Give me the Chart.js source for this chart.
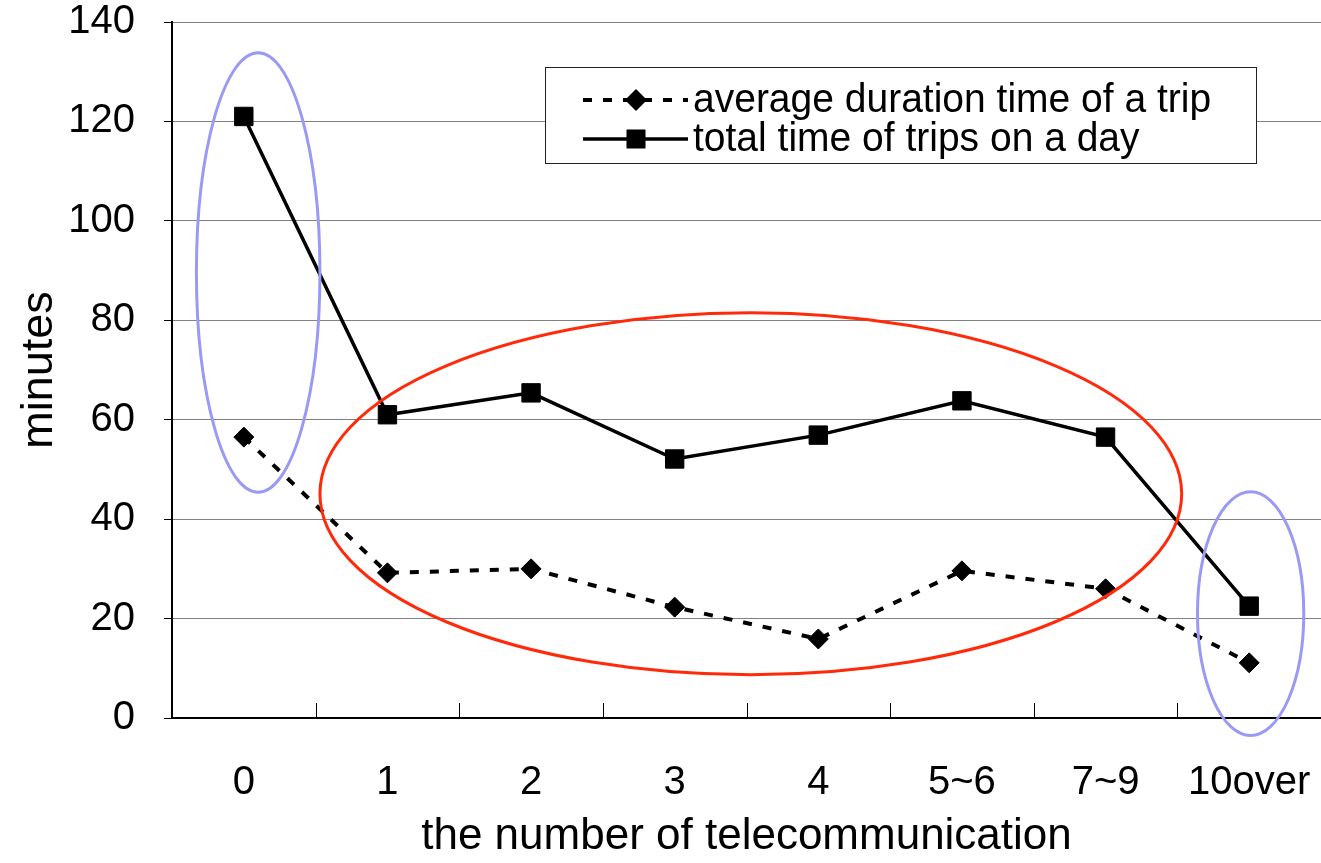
<!DOCTYPE html>
<html>
<head>
<meta charset="utf-8">
<script src="https://cdn.jsdelivr.net/npm/chart.js@4"></script>
<style>
  html, body { margin: 0; padding: 0; background: #fff; overflow: hidden; }
  #wrap { width: 1321px; height: 863px; }
  canvas { display: block; }
</style>
</head>
<body>
<div id="wrap"><canvas id="myChart"></canvas></div>
<script>
const categories = ['0', '1', '2', '3', '4', '5~6', '7~9', '10over'];
const avgDuration = [56.5, 29.2, 30.0, 22.3, 15.9, 29.6, 26.0, 11.1];
const totalTime = [121, 61, 65.4, 52.1, 56.9, 63.8, 56.5, 22.5];
const yTicks = [0, 20, 40, 60, 80, 100, 120, 140];
const seriesNames = ['average duration time of a trip', 'total time of trips on a day'];

const FONT = '"Liberation Sans", Arial, sans-serif';

// highlight ellipses, in axis units: [category centre, value centre, category radius, value radius, colour]
const rings = [
  [0.10, 89.6, 0.43, 44.2, '#9a9af5'],
  [3.53, 45.1, 3.00, 36.4, '#ff2a0a'],
  [7.01, 21.0, 0.37, 24.5, '#9a9af5']
];

const ringPlugin = {
  id: 'rings',
  afterDatasetsDraw(chart) {
    const c = chart.ctx, x = chart.scales.x, y = chart.scales.y;
    c.save();
    c.lineWidth = 3;
    rings.forEach(r => {
      const cx = x.getPixelForValue(r[0]);
      const cy = y.getPixelForValue(r[1]);
      const rx = x.getPixelForValue(r[0] + r[2]) - cx;
      const ry = y.getPixelForValue(r[1] - r[3]) - cy;
      c.strokeStyle = r[4];
      c.beginPath();
      c.ellipse(cx, cy, rx, ry, 0, 0, Math.PI * 2);
      c.stroke();
    });
    c.restore();
  }
};

// small ticks pointing up from the x axis, between categories
const xTickPlugin = {
  id: 'xTicks',
  afterDraw(chart) {
    const c = chart.ctx, x = chart.scales.x, bottom = chart.chartArea.bottom;
    c.save();
    c.strokeStyle = '#000';
    c.lineWidth = 1;
    for (let i = 0; i < categories.length - 1; i++) {
      const px = Math.round(x.getPixelForValue(i + 0.5)) + 0.5;
      c.beginPath();
      c.moveTo(px, bottom);
      c.lineTo(px, bottom - 15);
      c.stroke();
    }
    c.restore();
  }
};

const legendPlugin = {
  id: 'boxLegend',
  afterDraw(chart) {
    const c = chart.ctx;
    c.save();
    c.fillStyle = '#fff';
    c.fillRect(545, 67, 711, 96);
    c.strokeStyle = '#222';
    c.lineWidth = 1;
    c.strokeRect(545.5, 67.5, 711, 96);
    chart.data.datasets.forEach((ds, i) => {
      const yy = 100 + i * 39;
      c.strokeStyle = '#000';
      c.lineWidth = ds.borderWidth;
      c.setLineDash(ds.borderDash || []);
      c.beginPath();
      c.moveTo(583, yy);
      c.lineTo(688, yy);
      c.stroke();
      c.setLineDash([]);
      c.fillStyle = '#000';
      c.beginPath();
      if (ds.pointStyle === 'rectRot') {
        c.moveTo(636 - 11, yy); c.lineTo(636, yy - 11); c.lineTo(636 + 11, yy); c.lineTo(636, yy + 11);
      } else {
        c.rect(636 - 9.5, yy - 9.5, 19, 19);
      }
      c.closePath();
      c.fill();
      // the original legend text is a little tall for its width
      c.font = '39px ' + FONT;
      c.textBaseline = 'alphabetic';
      c.textAlign = 'left';
      c.save();
      c.translate(693, yy + 12);
      c.scale(1, 1.06);
      c.fillText(ds.label, 0, 0);
      c.restore();
    });
    c.restore();
  }
};

const ctx = document.getElementById('myChart');
const myChart = new Chart(ctx, {
  type: 'line',
  data: {
    labels: categories,
    datasets: [{
      label: seriesNames[0],
      data: avgDuration,
      borderColor: '#000',
      backgroundColor: '#000',
      borderWidth: 4,
      borderDash: [9, 11],
      pointStyle: 'rectRot',
      pointRadius: 10,
      pointBorderWidth: 1,
      pointBackgroundColor: '#000',
      pointBorderColor: '#000',
      tension: 0
    }, {
      label: seriesNames[1],
      data: totalTime,
      borderColor: '#000',
      backgroundColor: '#000',
      borderWidth: 3.5,
      pointStyle: 'rect',
      pointRadius: 13,
      pointBorderWidth: 1,
      pointBackgroundColor: '#000',
      pointBorderColor: '#000',
      tension: 0
    }]
  },
  options: {
    responsive: true,
    maintainAspectRatio: false,
    animation: false,
    layout: { autoPadding: false, padding: { top: 22, right: 0, left: 0, bottom: 0 } },
    plugins: {
      legend: { display: false },
      tooltip: { enabled: false }
    },
    scales: {
      x: {
        offset: true,
        grid: { display: false },
        border: { display: true, color: '#000', width: 2 },
        // small padding + tall line box keeps the labels low
        ticks: { color: '#000', font: { family: FONT, size: 40, lineHeight: 2.75 }, padding: 2, maxRotation: 0, autoSkip: false },
        title: { display: true, text: 'the number of telecommunication', color: '#000', font: { family: FONT, size: 44 }, padding: { top: 0, bottom: 0 } },
        afterFit(scale) {
          scale.height = 145;
          scale.paddingLeft = 0;
          scale.paddingRight = 0;
        }
      },
      y: {
        min: 0,
        max: 140,
        afterBuildTicks(scale) { scale.ticks = yTicks.map(v => ({ value: v })); },
        grid: { color: '#808080', lineWidth: 1, tickLength: 8, tickColor: '#000' },
        border: { display: true, color: '#000', width: 2 },
        ticks: { color: '#000', font: { family: FONT, size: 40, lineHeight: 1 }, padding: 29 },
        title: { display: true, text: 'minutes', color: '#000', font: { family: FONT, size: 45 }, padding: { top: 13, bottom: 0 } },
        afterFit(scale) {
          scale.width = 172;
          scale.paddingTop = 0;
          scale.paddingBottom = 0;
        }
      }
    }
  },
  plugins: [ringPlugin, xTickPlugin, legendPlugin]
});
</script>
</body>
</html>
